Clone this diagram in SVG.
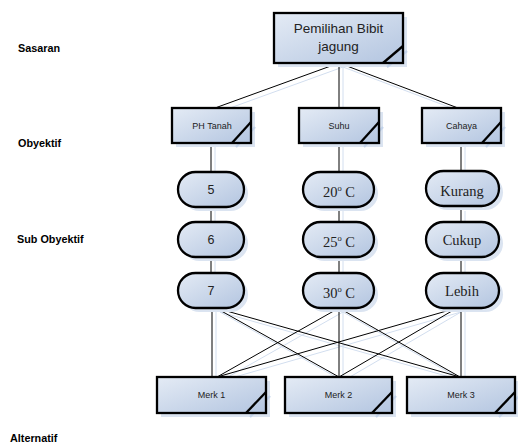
<svg xmlns="http://www.w3.org/2000/svg" width="518" height="444" viewBox="0 0 518 444">
  <style>
    .shape { fill: url(#fillGrad); stroke: #000; stroke-width: 2.3; }
    .shadow { fill: #dbe4f1; stroke: none; }
    .cut { fill: none; stroke: #000; stroke-width: 2.3; }
    .cutsh { fill: none; stroke: #c3d3ea; stroke-width: 2.3; }
    .link { stroke: #000; stroke-width: 1; fill: none; }
    .linksh { stroke: #d2deef; stroke-width: 1; fill: none; }
    .lbl { font-family: "Liberation Sans", Arial, sans-serif; font-weight: bold; font-size: 10.8px; fill: #000; }
    .t-main { font-family: "Liberation Sans", Arial, sans-serif; font-size: 13.5px; fill: #222; text-anchor: middle; }
    .t-box { font-family: "Liberation Sans", Arial, sans-serif; font-size: 9px; fill: #222; text-anchor: middle; }
    .t-num { font-family: "Liberation Sans", Arial, sans-serif; font-size: 12.5px; fill: #222; text-anchor: middle; }
    .t-serif { font-family: "Liberation Serif", "Times New Roman", serif; font-size: 14.5px; fill: #222; text-anchor: middle; }
  </style>
  <defs>
    <linearGradient id="fillGrad" x1="0" y1="0" x2="1" y2="1">
      <stop offset="0" stop-color="#e4ebf5"/>
      <stop offset="1" stop-color="#b3c5e0"/>
    </linearGradient>
  </defs>

  <rect width="518" height="444" fill="#fff"/>

  <!-- level labels -->
  <text class="lbl" x="18" y="52">Sasaran</text>
  <text class="lbl" x="18" y="147">Obyektif</text>
  <text class="lbl" x="17" y="243">Sub Obyektif</text>
  <text class="lbl" x="10" y="442">Alternatif</text>

  <!-- connectors -->
  <g id="connectors">
    <g transform="translate(4,4)" class="linksh">
      <path d="M339 63L215 108M339 63L339 108M339 63L458 108"/>
      <path d="M211 143V172M211 207V222M211 257V273M339 143V172M339 207V222M339 257V273M461 143V172M461 207V222M461 257V273"/>
      <path d="M212 308V377M216 308L339 377M216 308L460 377M339 308L217 377M339 308V377M339 308L460 377M457 308L217 377M457 308L339 377M461 308V377"/>
    </g>
    <g class="link">
      <path d="M339 63L215 108M339 63L339 108M339 63L458 108"/>
      <path d="M211 143V172M211 207V222M211 257V273M339 143V172M339 207V222M339 257V273M461 143V172M461 207V222M461 257V273"/>
      <path d="M212 308V377M216 308L339 377M216 308L460 377M339 308L217 377M339 308V377M339 308L460 377M457 308L217 377M457 308L339 377M461 308V377"/>
    </g>
  </g>

  <!-- goal -->
  <g id="goal">
    <rect class="shadow" x="278" y="17" width="129" height="50"/>
    <path class="cutsh" d="M407 51L387 67"/>
    <rect class="shape" x="274" y="13" width="129" height="50"/>
    <path class="cut" d="M403 46L383 63"/>
    <text class="t-main" x="338.5" y="33">Pemilihan Bibit</text>
    <text class="t-main" x="338.5" y="51">jagung</text>
  </g>

  <!-- objectives -->
  <g id="obj-ph">
    <rect class="shadow" x="176" y="112" width="79" height="35"/>
    <path class="cutsh" d="M255 127L236 147"/>
    <rect class="shape" x="172" y="108" width="79" height="35"/>
    <path class="cut" d="M251 122L232 143"/>
    <text class="t-box" x="212" y="128.5">PH Tanah</text>
  </g>
  <g id="obj-suhu">
    <rect class="shadow" x="303" y="112" width="80" height="35"/>
    <path class="cutsh" d="M383 127L364 147"/>
    <rect class="shape" x="299" y="108" width="80" height="35"/>
    <path class="cut" d="M379 122L360 143"/>
    <text class="t-box" x="339" y="128.5">Suhu</text>
  </g>
  <g id="obj-cahaya">
    <rect class="shadow" x="426" y="112" width="79" height="35"/>
    <path class="cutsh" d="M505 127L486 147"/>
    <rect class="shape" x="422" y="108" width="79" height="35"/>
    <path class="cut" d="M501 122L482 143"/>
    <text class="t-box" x="461.5" y="128.5">Cahaya</text>
  </g>

  <!-- sub objectives: PH -->
  <g id="ph-5">
    <rect class="shadow" x="182" y="176" width="66" height="35" rx="17.5"/>
    <rect class="shape" x="178" y="172" width="66" height="35" rx="17.5"/>
    <text class="t-num" x="211" y="193.5">5</text>
  </g>
  <g id="ph-6">
    <rect class="shadow" x="182" y="226" width="66" height="35" rx="17.5"/>
    <rect class="shape" x="178" y="222" width="66" height="35" rx="17.5"/>
    <text class="t-num" x="211" y="243.5">6</text>
  </g>
  <g id="ph-7">
    <rect class="shadow" x="182" y="277" width="66" height="35" rx="17.5"/>
    <rect class="shape" x="178" y="273" width="66" height="35" rx="17.5"/>
    <text class="t-num" x="211" y="294.5">7</text>
  </g>

  <!-- sub objectives: Suhu -->
  <g id="suhu-20">
    <rect class="shadow" x="307" y="176" width="71" height="35" rx="17.5"/>
    <rect class="shape" x="303" y="172" width="71" height="35" rx="17.5"/>
    <text class="t-serif" x="339" y="197">20<tspan font-size="8.5" dy="-6">o</tspan><tspan dy="6"> C</tspan></text>
  </g>
  <g id="suhu-25">
    <rect class="shadow" x="307" y="226" width="71" height="35" rx="17.5"/>
    <rect class="shape" x="303" y="222" width="71" height="35" rx="17.5"/>
    <text class="t-serif" x="339" y="247">25<tspan font-size="8.5" dy="-6">o</tspan><tspan dy="6"> C</tspan></text>
  </g>
  <g id="suhu-30">
    <rect class="shadow" x="307" y="277" width="71" height="35" rx="17.5"/>
    <rect class="shape" x="303" y="273" width="71" height="35" rx="17.5"/>
    <text class="t-serif" x="339" y="298">30<tspan font-size="8.5" dy="-6">o</tspan><tspan dy="6"> C</tspan></text>
  </g>

  <!-- sub objectives: Cahaya -->
  <g id="cahaya-kurang">
    <rect class="shadow" x="430" y="175" width="73" height="35" rx="17.5"/>
    <rect class="shape" x="426" y="171" width="73" height="35" rx="17.5"/>
    <text class="t-serif" x="462" y="196">Kurang</text>
  </g>
  <g id="cahaya-cukup">
    <rect class="shadow" x="430" y="226" width="73" height="35" rx="17.5"/>
    <rect class="shape" x="426" y="222" width="73" height="35" rx="17.5"/>
    <text class="t-serif" x="462" y="245">Cukup</text>
  </g>
  <g id="cahaya-lebih">
    <rect class="shadow" x="430" y="277" width="73" height="35" rx="17.5"/>
    <rect class="shape" x="426" y="273" width="73" height="35" rx="17.5"/>
    <text class="t-serif" x="462" y="296">Lebih</text>
  </g>

  <!-- alternatives -->
  <g id="merk-1">
    <rect class="shadow" x="161" y="381" width="109" height="36"/>
    <path class="cutsh" d="M270 396L250 417"/>
    <rect class="shape" x="157" y="377" width="109" height="36"/>
    <path class="cut" d="M266 392L246 413"/>
    <text class="t-box" x="211.5" y="397.5">Merk 1</text>
  </g>
  <g id="merk-2">
    <rect class="shadow" x="289" y="381" width="107" height="36"/>
    <path class="cutsh" d="M396 396L376 417"/>
    <rect class="shape" x="285" y="377" width="107" height="36"/>
    <path class="cut" d="M392 392L372 413"/>
    <text class="t-box" x="338.5" y="397.5">Merk 2</text>
  </g>
  <g id="merk-3">
    <rect class="shadow" x="411" y="381" width="108" height="36"/>
    <path class="cutsh" d="M519 396L499 417"/>
    <rect class="shape" x="407" y="377" width="108" height="36"/>
    <path class="cut" d="M515 392L495 413"/>
    <text class="t-box" x="461" y="397.5">Merk 3</text>
  </g>
</svg>
